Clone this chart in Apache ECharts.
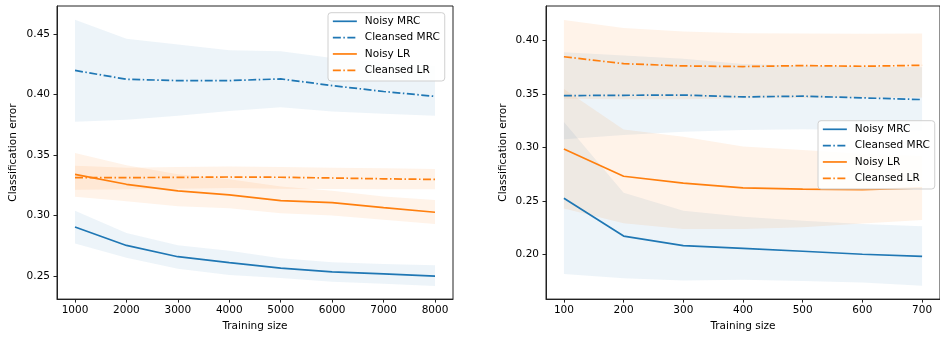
<!DOCTYPE html>
<html>
<head>
<meta charset="utf-8">
<script src="https://cdn.jsdelivr.net/npm/echarts@6/dist/echarts.min.js"></script>
<style>html,body{margin:0;padding:0;background:#fff}#c{width:940px;height:337px}</style>
</head>
<body>
<div id="c"></div>
<script>
// ---------- Left panel data ----------
const xLeft = [1000, 2000, 3000, 4000, 5000, 6000, 7000, 8000];
const xLeftTicks = [1000, 2000, 3000, 4000, 5000, 6000, 7000, 8000];
const yLeftTicks = [0.25, 0.30, 0.35, 0.40, 0.45];

const L_noisyMRC      = [0.2905, 0.2753, 0.2660, 0.2611, 0.2565, 0.2535, 0.2519, 0.2500];
const L_noisyMRC_hi   = [0.3040, 0.2856, 0.2755, 0.2710, 0.2647, 0.2614, 0.2600, 0.2590];
const L_noisyMRC_lo   = [0.2769, 0.2652, 0.2560, 0.2508, 0.2484, 0.2454, 0.2437, 0.2418];

const L_cleanMRC      = [0.4198, 0.4125, 0.4114, 0.4114, 0.4128, 0.4073, 0.4024, 0.3984];
const L_cleanMRC_hi   = [0.4617, 0.4459, 0.4413, 0.4364, 0.4356, 0.4300, 0.4265, 0.4235];
const L_cleanMRC_lo   = [0.3774, 0.3790, 0.3823, 0.3864, 0.3894, 0.3858, 0.3840, 0.3823];

const L_noisyLR       = [0.3340, 0.3258, 0.3204, 0.3171, 0.3123, 0.3106, 0.3065, 0.3027];
const L_noisyLR_hi    = [0.3516, 0.3415, 0.3340, 0.3299, 0.3240, 0.3204, 0.3158, 0.3128];
const L_noisyLR_lo    = [0.3155, 0.3117, 0.3076, 0.3060, 0.3019, 0.3000, 0.2965, 0.2930];

const L_cleanLR       = [0.3313, 0.3313, 0.3315, 0.3318, 0.3316, 0.3310, 0.3303, 0.3298];
const L_cleanLR_hi    = [0.3410, 0.3395, 0.3400, 0.3405, 0.3400, 0.3395, 0.3390, 0.3385];
const L_cleanLR_lo    = [0.3212, 0.3217, 0.3222, 0.3228, 0.3222, 0.3220, 0.3218, 0.3217];

// ---------- Right panel data ----------
const xRight = [100, 200, 300, 400, 500, 600, 700];
const xRightTicks = [100, 200, 300, 400, 500, 600, 700];
const yRightTicks = [0.20, 0.25, 0.30, 0.35, 0.40];

const R_noisyMRC      = [0.2524, 0.2170, 0.2080, 0.2055, 0.2028, 0.2000, 0.1980];
const R_noisyMRC_hi   = [0.3239, 0.2576, 0.2407, 0.2350, 0.2314, 0.2283, 0.2262];
const R_noisyMRC_lo   = [0.1815, 0.1775, 0.1753, 0.1760, 0.1750, 0.1735, 0.1705];

const R_cleanMRC      = [0.3485, 0.3488, 0.3490, 0.3473, 0.3480, 0.3464, 0.3448];
const R_cleanMRC_hi   = [0.3892, 0.3860, 0.3830, 0.3780, 0.3765, 0.3755, 0.3750];
const R_cleanMRC_lo   = [0.3076, 0.3116, 0.3146, 0.3162, 0.3170, 0.3162, 0.3155];

const R_noisyLR       = [0.2986, 0.2730, 0.2666, 0.2622, 0.2610, 0.2604, 0.2620];
const R_noisyLR_hi    = [0.3547, 0.3168, 0.3100, 0.3008, 0.2977, 0.2940, 0.2920];
const R_noisyLR_lo    = [0.2428, 0.2289, 0.2237, 0.2237, 0.2253, 0.2287, 0.2320];

const R_cleanLR       = [0.3849, 0.3784, 0.3763, 0.3757, 0.3766, 0.3760, 0.3769];
const R_cleanLR_hi    = [0.4194, 0.4117, 0.4086, 0.4068, 0.4066, 0.4065, 0.4066];
const R_cleanLR_lo    = [0.3455, 0.3450, 0.3450, 0.3460, 0.3462, 0.3465, 0.3468];

const seriesNames = ['Noisy MRC', 'Cleansed MRC', 'Noisy LR', 'Cleansed LR'];

// ---------- styling ----------
const BLUE = '#1f77b4', ORANGE = '#ff7f0e';
const FONT = 'DejaVu Sans';
const FS = 10.5;
const LW = 1.7;
const DASHDOT = [8, 2.5, 1.5, 2.5];
const legendColors = [BLUE, BLUE, ORANGE, ORANGE];
const legendDashed = [false, true, false, true];

function zip(xs, ys) { return xs.map((x, i) => [x, ys[i]]); }

function band(xi, xs, lo, hi, color, alpha) {
  return {
    type: 'custom', xAxisIndex: xi, yAxisIndex: xi, silent: true, z: 1,
    data: [[xs[0], lo[0]]],
    renderItem: function (params, api) {
      const pts = [];
      for (let i = 0; i < xs.length; i++) pts.push(api.coord([xs[i], hi[i]]));
      for (let i = xs.length - 1; i >= 0; i--) pts.push(api.coord([xs[i], lo[i]]));
      return { type: 'polygon', shape: { points: pts }, style: { fill: color, opacity: alpha } };
    }
  };
}

function line(name, xi, xs, ys, color, dash) {
  return {
    name: name, type: 'line', xAxisIndex: xi, yAxisIndex: xi, z: 3,
    data: zip(xs, ys), symbol: 'none', showSymbol: false, silent: true,
    lineStyle: { color: color, width: LW, type: dash ? DASHDOT : 'solid' },
    itemStyle: { color: color }
  };
}

function xAxis(gi, min, max, ticks) {
  return {
    type: 'value', gridIndex: gi, min: min, max: max,
    name: 'Training size', nameLocation: 'middle', nameGap: 21,
    nameTextStyle: { fontFamily: FONT, fontSize: FS, color: '#000' },
    axisLine: { show: true, lineStyle: { color: '#222', width: 1 } },
    axisTick: { show: true, length: 3.5, lineStyle: { color: '#222' }, customValues: ticks },
    axisLabel: { fontFamily: FONT, fontSize: FS, color: '#000', margin: 6, customValues: ticks,
                 formatter: v => String(Math.round(v)) },
    splitLine: { show: false }
  };
}
function yAxis(gi, min, max, ticks, gap) {
  return {
    type: 'value', gridIndex: gi, min: min, max: max,
    name: 'Classification error', nameLocation: 'middle', nameGap: gap,
    nameTextStyle: { fontFamily: FONT, fontSize: FS, color: '#000' },
    axisLine: { show: true, lineStyle: { color: '#222', width: 1 } },
    axisTick: { show: true, length: 3.5, lineStyle: { color: '#222' }, customValues: ticks },
    axisLabel: { fontFamily: FONT, fontSize: FS, color: '#000', margin: 7, customValues: ticks,
                 formatter: v => v.toFixed(2) },
    splitLine: { show: false }
  };
}
function legend(left, top) {
  return {
    orient: 'vertical', left: left, top: top,
    data: seriesNames.map((n, i) => ({
      name: n,
      itemStyle: { color: 'rgba(0,0,0,0)', opacity: 0, borderWidth: 0 },
      lineStyle: { color: legendColors[i], width: LW, type: legendDashed[i] ? DASHDOT : 'solid', opacity: 1 }
    })),
    itemWidth: 24, itemHeight: 12, itemGap: 4.33,
    padding: [2.6, 5, 4.7, 4],
    backgroundColor: 'rgba(255,255,255,0.85)',
    borderColor: '#d0d0d0', borderWidth: 1, borderRadius: 3,
    textStyle: { fontFamily: FONT, fontSize: FS, lineHeight: 12, color: '#000', padding: [0, 0, 0, 3] },
    selectedMode: false
  };
}

const chart = echarts.init(document.getElementById('c'), null, { renderer: 'canvas' });
chart.setOption({
  animation: false,
  backgroundColor: '#fff',
  grid: [
    { left: 57, top: 6, width: 396, height: 297, show: true, borderColor: '#222', borderWidth: 1, backgroundColor: 'transparent' },
    { left: 546, top: 6, width: 397, height: 297, show: true, borderColor: '#222', borderWidth: 1, backgroundColor: 'transparent' }
  ],
  xAxis: [ xAxis(0, 650, 8350, xLeftTicks), xAxis(1, 70, 730, xRightTicks) ],
  yAxis: [ yAxis(0, 0.231, 0.473, yLeftTicks, 38), yAxis(1, 0.158, 0.4324, yRightTicks, 37) ],
  legend: [ legend(328, 12.7), legend(818, 120.7) ],
  series: [
    band(0, xLeft, L_noisyMRC_lo, L_noisyMRC_hi, BLUE, 0.08),
    band(0, xLeft, L_cleanMRC_lo, L_cleanMRC_hi, BLUE, 0.08),
    band(0, xLeft, L_noisyLR_lo, L_noisyLR_hi, ORANGE, 0.09),
    band(0, xLeft, L_cleanLR_lo, L_cleanLR_hi, ORANGE, 0.09),
    line('Noisy MRC', 0, xLeft, L_noisyMRC, BLUE, false),
    line('Cleansed MRC', 0, xLeft, L_cleanMRC, BLUE, true),
    line('Noisy LR', 0, xLeft, L_noisyLR, ORANGE, false),
    line('Cleansed LR', 0, xLeft, L_cleanLR, ORANGE, true),

    band(1, xRight, R_noisyMRC_lo, R_noisyMRC_hi, BLUE, 0.08),
    band(1, xRight, R_cleanMRC_lo, R_cleanMRC_hi, BLUE, 0.08),
    band(1, xRight, R_noisyLR_lo, R_noisyLR_hi, ORANGE, 0.09),
    band(1, xRight, R_cleanLR_lo, R_cleanLR_hi, ORANGE, 0.09),
    line('Noisy MRC', 1, xRight, R_noisyMRC, BLUE, false),
    line('Cleansed MRC', 1, xRight, R_cleanMRC, BLUE, true),
    line('Noisy LR', 1, xRight, R_noisyLR, ORANGE, false),
    line('Cleansed LR', 1, xRight, R_cleanLR, ORANGE, true)
  ]
});
</script>
</body>
</html>
